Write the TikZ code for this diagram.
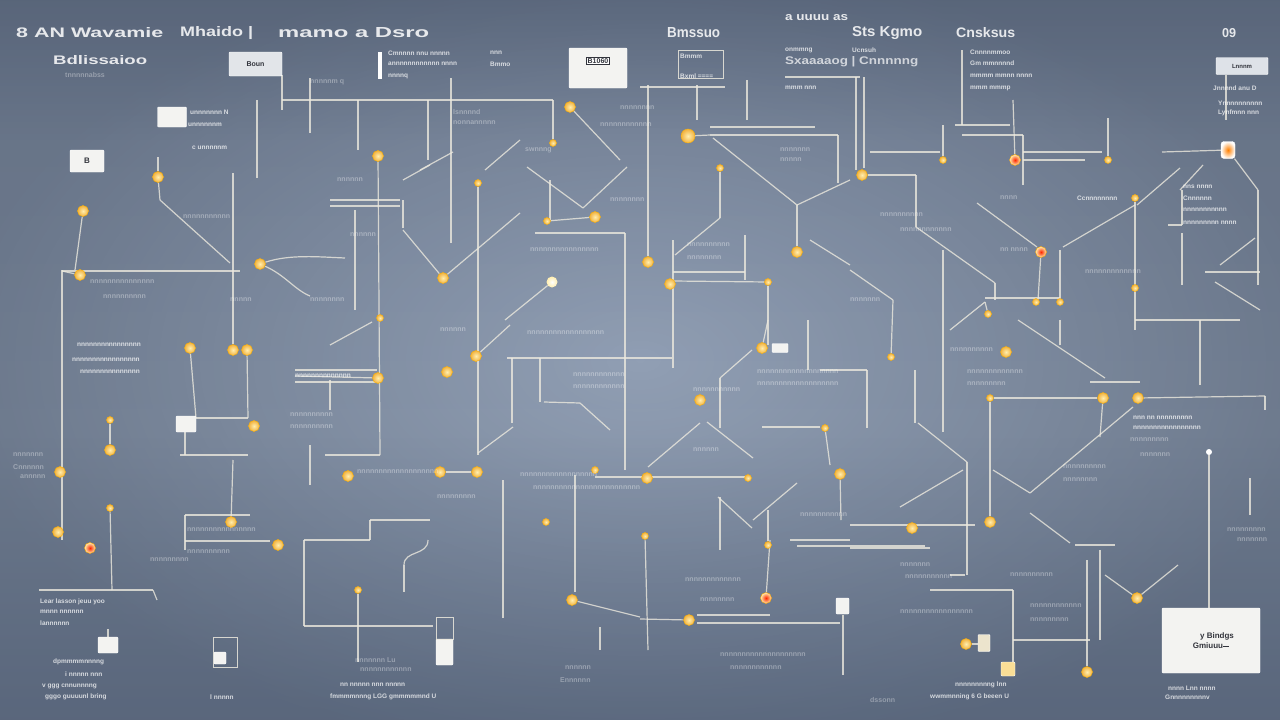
\documentclass[tikz,border=0pt]{standalone}
\usepackage{fontspec}
\setsansfont{Liberation Sans}
\usetikzlibrary{fadings}
\pgfdeclarelayer{back}
\pgfdeclarelayer{lines}
\pgfsetlayers{back,lines,main}
\definecolor{bgA}{RGB}{70,83,106}
\definecolor{bgB}{RGB}{110,125,150}
\definecolor{bgC}{RGB}{146,160,181}
\definecolor{bgD}{RGB}{140,154,176}
\definecolor{bgE}{RGB}{92,106,130}
\definecolor{bgF}{RGB}{48,58,78}
\definecolor{vigc}{RGB}{38,48,64}
\definecolor{lnc}{RGB}{236,233,222}
\definecolor{dotin}{RGB}{255,238,175}
\definecolor{dotout}{RGB}{242,178,62}
\definecolor{boxc}{RGB}{243,243,241}
\definecolor{darktx}{RGB}{50,52,60}
\pgfdeclareverticalshading{bgv}{100bp}{color(0bp)=(bgA); color(20bp)=(bgB); color(45bp)=(bgC); color(65bp)=(bgD); color(85bp)=(bgE); color(100bp)=(bgF)}
\tikzfading[name=vign, inner color=transparent!100, outer color=transparent!0]
\newcommand\fitt[3]{\resizebox{#1pt}{#2pt}{#3}}
\begin{document}
\begin{tikzpicture}[x=1pt,y=-1pt,
  ln/.style={draw=lnc, opacity=0.8, line width=1.2pt},
  dot/.style={circle, inner sep=0pt, minimum size=11pt, inner color=dotin, outer color=dotout, draw=orange!60!yellow, line width=0.4pt},
  bigdot/.style={dot, minimum size=14pt},
  sdot/.style={dot, minimum size=7pt},
  rdot/.style={circle, inner sep=0pt, minimum size=11pt, inner color=red!70!orange, outer color=dotin, draw=orange!70!yellow, line width=0.4pt},
  pdot/.style={circle, inner sep=0pt, minimum size=11pt, inner color=white, outer color=dotin},
  wdot/.style={rounded corners=3pt, inner sep=0pt, minimum width=14pt, minimum height=17pt, inner color=orange, outer color=white, draw=white},
  wbox/.style={fill=boxc, draw=white, inner sep=0pt, rounded corners=1pt},
  obox/.style={draw=lnc, opacity=0.85, line width=1pt, inner sep=0pt},
  hd/.style={text=white, opacity=0.85, font=\sffamily\bfseries, inner sep=0pt, anchor=west},
  tb/.style={text=white, opacity=0.75, font=\sffamily\bfseries\fontsize{6.5}{7}\selectfont, inner sep=0pt, anchor=west},
  tf/.style={text=white, opacity=0.35, font=\sffamily\bfseries\fontsize{7}{8}\selectfont, inner sep=0pt, anchor=west}]
\useasboundingbox (0,0) rectangle (1280,720);
\begin{pgfonlayer}{back}
\shade[shading=bgv] (-2,-2) rectangle (1282,722);
\fill[vigc, path fading=vign, opacity=0.35] (-40,-40) rectangle (1320,760);
\end{pgfonlayer}

% dots
\foreach \n/\x/\y in {d1/570/107, d3/378/156, d4/158/177, d5/83/211, d6/862/175, d11/260/264, d12/80/275, d13/443/278, d15/648/262, d16/670/284, d17/797/252, d18/595/217, d24/1006/352, d26/762/348, d27/190/348, d28/233/350, d29/247/350, d30/378/378, d31/476/356, d32/447/372, d33/700/400, d34/1103/398, d35/1138/398, d38/840/474, d39/254/426, d40/110/450, d41/60/472, d42/348/476, d43/440/472, d44/477/472, d46/647/478, d49/231/522, d50/278/545, d51/58/532, d56/912/528, d57/990/522, d58/1137/598, d59/572/600, d60/689/620, d62/966/644, d63/1087/672}
  \node[dot] (\n) at (\x,\y) {};
\node[bigdot] (d2) at (688,136) {};
\node[pdot] (d14) at (552,282) {};
\foreach \n/\x/\y in {d7/1015/160, d20/1041/252, d52/90/548, d61/766/598}
  \node[rdot] (\n) at (\x,\y) {};
\foreach \n/\x/\y in {d8/1108/160, d9/943/160, d19/547/221, d21/1060/302, d22/1036/302, d23/988/314, d25/891/357, d36/990/398, d37/825/428, d45/595/470, d47/748/478, d48/110/508, d53/546/522, d54/645/536, d55/768/545, d64/380/318, d66/1135/198, d67/1135/288, d68/720/168, d69/553/143, d70/358/590, d71/768/282, d72/110/420, d75/478/183}
  \node[sdot] (\n) at (\x,\y) {};
\node[wdot] (d10) at (1228,150) {};
\node[circle, fill=white, inner sep=0pt, minimum size=6pt] (d73) at (1209,452) {};

% boxes
\node[wbox, minimum width=29pt, minimum height=20pt] (b1) at (172,117) {};
\node[wbox, minimum width=34pt, minimum height=22pt, text=darktx, font=\sffamily\bfseries\fontsize{8}{8}\selectfont] (b2) at (87,161) {B};
\node[wbox, fill={rgb,255:red,226;green,229;blue,233}, minimum width=53pt, minimum height=24pt, text=darktx, font=\sffamily\bfseries\fontsize{7}{7}\selectfont, text depth=-6pt] (b3) at (255.5,64) {Boun};
\node[wbox, minimum width=58pt, minimum height=40pt] (b4) at (598,68) {};
\node[draw=darktx, fill=white, inner sep=1pt, text=darktx, font=\sffamily\bfseries\fontsize{7}{7}\selectfont] (b4l) at (598,61) {B1060};
\node[wbox, minimum width=98pt, minimum height=65pt, align=center, text=darktx, font=\sffamily\bfseries\fontsize{8}{10}\selectfont] (b5) at (1211,640.5) {\hspace*{12pt}y Bindgs\\Gmiuuu\rule[2pt]{6pt}{0.8pt}};
\node[wbox, fill={rgb,255:red,222;green,226;blue,232}, minimum width=52pt, minimum height=17pt, text=darktx, font=\sffamily\bfseries\fontsize{6}{6}\selectfont] (b6) at (1242,66) {Lnnnm};
\node[wbox, minimum width=13pt, minimum height=16pt] (b7) at (842.5,606) {};
\node[wbox, minimum width=20pt, minimum height=16pt] (b8) at (186,424) {};
\node[wbox, minimum width=17pt, minimum height=26pt] (b9) at (444.5,652) {};
\node[obox, minimum width=17pt, minimum height=22pt] (b9o) at (444.5,628) {};
\node[obox, minimum width=24pt, minimum height=30pt] (b10) at (225,652) {};
\node[wbox, minimum width=12pt, minimum height=12pt] (b10i) at (220,658) {};
\node[wbox, minimum width=20pt, minimum height=16pt] (b11) at (108,645) {};
\node[obox, minimum width=45pt, minimum height=28pt] (b12) at (700.5,64) {};
\node[wbox, fill={rgb,255:red,250;green,222;blue,150}, minimum width=14pt, minimum height=14pt] (b13) at (1008,669) {};
\node[wbox, fill={rgb,255:red,236;green,228;blue,205}, minimum width=12pt, minimum height=17pt] (b14) at (984,643) {};
\node[wbox, minimum width=16pt, minimum height=9pt] (b15) at (780,348) {};
\node[fill=white, inner sep=0pt, minimum width=4pt, minimum height=27pt] (bar1) at (380,65) {};

\begin{pgfonlayer}{lines}
\foreach \a/\b/\c/\d [count=\i] in {282/75/282/110, 282/100/553/100, 310/78/310/133, 358/100/358/150, 428/100/428/160, 451/78/451/243, 257/100/257/178, 640/87/725/87, 697/85/697/120, 747/80/747/120, 710/127/815/127, 710/135/838/135, 713/138/797/205, 797/205/850/180, 838/135/838/183, 785/77/860/77, 856/77/856/170, 864/77/864/168, 962/50/962/125, 1226/75/1226/120, 870/152/940/152, 955/125/1010/125, 962/135/1023/135, 1023/135/1023/185, 1023/152/1102/152, 1023/160/1085/160, 1258/190/1258/285, 1203/165/1180/190, 1182/190/1182/225, 1168/225/1182/225, 1182/233/1182/285, 1205/272/1260/272, 1255/238/1220/265, 1137/205/1180/168, 1063/247/1135/205, 1060/250/1060/305, 977/203/1037/247, 985/298/1060/298, 985/302/950/330, 1135/320/1240/320, 1215/282/1260/310, 916/175/916/227, 916/227/995/283, 995/283/995/300, 850/270/893/300, 943/250/943/432, 720/218/675/255, 673/240/673/368, 745/235/745/280, 673/272/745/272, 810/240/850/265, 160/200/230/263, 62/271/240/271, 62/270/62/540, 330/200/400/200, 330/206/400/206, 403/200/403/228, 403/180/430/165, 355/210/355/310, 420/170/453/152, 485/170/520/140, 527/167/583/208, 583/208/627/167, 550/180/550/220, 535/233/625/233, 625/233/625/470, 195/418/248/418, 185/430/185/455, 180/455/248/455, 295/370/377/370, 295/382/377/382, 380/455/325/455, 330/380/330/410, 372/322/330/345, 310/445/310/485, 185/515/185/550, 185/515/250/515, 185/541/270/541, 304/540/304/626, 304/540/370/540, 370/520/370/540, 370/520/430/520, 304/626/433/626, 404/565/404/592, 503/480/503/618, 575/475/575/592, 600/627/600/650, 39/590/153/590, 153/590/157/600, 507/358/672/358, 512/358/512/423, 540/358/540/402, 544/402/580/403, 580/403/610/430, 513/427/478/453, 720/378/720/428, 720/378/752/350, 808/320/808/370, 820/370/850/370, 762/427/820/427, 648/467/700/423, 707/422/753/458, 595/477/750/477, 718/497/752/528, 720/497/720/550, 753/520/797/483, 790/540/850/540, 697/615/770/615, 697/623/840/623, 797/546/925/546, 843/615/843/675, 850/370/867/370, 867/370/867/428, 915/370/915/423, 918/423/967/462, 967/462/967/575, 1018/320/1105/378, 1060/320/1060/345, 1265/396/1265/410, 1133/407/1030/493, 1200/320/1200/385, 1090/382/1140/382, 993/470/1030/493, 1030/513/1070/543, 963/470/900/507, 850/525/975/525, 850/548/930/548, 1250/478/1250/515, 950/575/965/575, 930/590/1013/590, 1013/590/1013/663, 1013/640/1090/640, 1100/550/1100/640, 1075/545/1115/545}
  {\coordinate (s\i) at (\a,\b); \coordinate (e\i) at (\c,\d); \draw[ln] (s\i) -- (e\i);}
\foreach \n/\x/\y [count=\i] in {d69/553/100, d1/620/160, d15/648/85, d17/797/205, d4/158/157, d4/160/200, d28/233/173, d5/75/270, d3/380/455, d13/403/230, d13/520/213, d14/505/320, d9/943/125, d7/1013/100, d8/1108/118, d10/1258/190, d10/1162/152, d66/1135/330, d20/1038/300, d6/916/175, d25/893/300, d68/720/218, d71/673/281, d71/768/345, d29/248/418, d49/233/460, d70/358/662, d59/640/617, d31/510/325, d26/768/320, d37/830/465, d54/648/650, d55/768/510, d61/770/540, d60/640/619, d34/1100/437, d35/1265/396, d58/1178/565, d58/1105/575, d63/1087/560, d73/1209/608, d48/112/590, d23/985/302, d38/841/520, d27/196/418, d75/478/455, d2/710/135, d30/295/376, d62/978/644, d12/62/271}
  {\coordinate (k\i) at (\x,\y); \draw[ln] (\n) -- (k\i);}
\draw[ln] (d18) -- (d19);
\draw[ln] (d72) -- (d40);
\draw[ln] (d43) -- (d44);
\draw[ln] (d36) -- (d34);
\draw[ln] (d36) -- (d57);
\coordinate (cv1) at (345,258);
\coordinate (cv2) at (310,296);
\coordinate (cv3) at (428,540);
\coordinate (cv4) at (404,565);
\coordinate (cv5) at (108,629);
\draw[ln] (d11) .. controls (290,254) and (320,257) .. (cv1);
\draw[ln] (d11) .. controls (285,275) and (295,290) .. (cv2);
\draw[ln] (cv3) .. controls (428,556) and (404,550) .. (cv4);
\draw[ln] (b11) -- (cv5);
\end{pgfonlayer}

% header texts
\node[hd] (h1) at (16,33) {\fitt{147}{10}{8 AN Wavamie}};
\node[hd] (h2) at (180,33) {\fitt{73}{10}{Mhaido |}};
\node[hd] (h3) at (278,33) {\fitt{151}{10}{mamo a Dsro}};
\node[hd] (h4) at (667,33) {\fitt{53}{10}{Bmssuo}};
\node[hd] (h5) at (852,33) {\fitt{70}{10}{Sts Kgmo}};
\node[hd] (h6) at (956,33) {\fitt{59}{10}{Cnsksus}};
\node[hd] (h7) at (1222,33) {\fitt{14}{9}{09}};
\node[hd] (h8) at (785,18) {\fitt{63}{6}{a uuuu as}};
\node[hd] (h9) at (53,60) {\fitt{94}{9}{Bdlissaioo}};
\node[hd, opacity=0.7] (h10) at (785,62) {\fitt{133}{8}{Sxaaaaog | Cnnnnng}};

% brighter small texts
\foreach \x/\y/\t [count=\i] in {388/53/Cmnnnn nnu nnnnn, 490/53/nnn, 388/64/annnnnnnnnnnn nnnn, 490/64/Bmmo, 388/76/nnnnq, 785/50/onmmng, 852/50/Ucnsuh, 970/52/Cnnnnmmoo, 970/63/Gm mmnnnnd, 970/76/mmmm mmnn nnnn, 970/88/mmm mmmp, 1213/88/Jnnnnd anu D, 1218/103/Ynnnnnnnnnn, 1218/113/Lynfmnn nnn, 680/56/Bmmm, 680/76/Bxml  ====, 785/88/mmm nnn, 190/112/unnnnnnn N, 188/125/unnnnnnm, 192/148/c unnnnnm, 40/602/Lear lasson jeuu yoo, 40/612/mnnn nnnnnn, 40/623/lannnnnn, 53/662/dpmmmmnnnng, 65/674/i nnnnn nnn, 42/686/v ggg cnnunnnng, 45/697/gggo guuuunl bring, 210/697/l nnnnn, 330/697/fmmmmnnng LGG gmmmmmnd U, 340/685/nn nnnnn   nnn nnnnn, 1168/688/nnnn Lnn nnnn, 1165/697/Gnnnnnnnnnv, 930/697/wwmmnning 6 G   beeen U, 955/685/nnnnnnnnng  lnn, 1183/187/nns nnnn, 1183/198/Cnnnnnn, 1183/210/nnnnnnnnnnn, 1183/223/nnnnnnnnn nnnn, 1077/198/Ccnnnnnnnn, 1133/418/nnn nn nnnnnnnnn, 1133/428/nnnnnnnnnnnnnnnnn, 295/376/nnnnnnnnnnnnnn, 77/345/nnnnnnnnnnnnnnnn, 72/360/nnnnnnnnnnnnnnnnn, 80/372/nnnnnnnnnnnnnnn}
  \node[tb] (tb\i) at (\x,\y) {\t};

% faint texts
\foreach \x/\y/\t [count=\i] in {65/75/tnnnnnabss, 310/82/nnnnnm q, 453/112/lsnnnnd, 453/123/nonnannnnn, 525/150/swnnng, 620/108/nnnnnnnn, 600/125/nnnnnnnnnnnn, 780/150/nnnnnnn, 780/160/nnnnn, 610/200/nnnnnnnn, 530/250/nnnnnnnnnnnnnnnn, 687/245/nnnnnnnnnn, 687/258/nnnnnnnn, 183/217/nnnnnnnnnnn, 90/282/nnnnnnnnnnnnnnn, 103/297/nnnnnnnnnn, 310/300/nnnnnnnn, 337/180/nnnnnn, 350/235/nnnnnn, 880/215/nnnnnnnnnn, 900/230/nnnnnnnnnnnn, 1000/250/nn nnnn, 1085/272/nnnnnnnnnnnnn, 950/350/nnnnnnnnnn, 967/372/nnnnnnnnnnnnn, 967/384/nnnnnnnnn, 1063/467/nnnnnnnnnn, 1063/480/nnnnnnnn, 1227/530/nnnnnnnnn, 1237/540/nnnnnnn, 527/333/nnnnnnnnnnnnnnnnnn, 573/375/nnnnnnnnnnnn, 573/387/nnnnnnnnnnnn, 693/390/nnnnnnnnnnn, 757/372/nnnnnnnnnnnnnnnnnnn, 757/384/nnnnnnnnnnnnnnnnnnn, 520/475/nnnnnnnnnnnnnnnnnn, 533/488/nnnnnnnnnnnnnnnnnnnnnnnnn, 437/497/nnnnnnnnn, 693/450/nnnnnn, 800/515/nnnnnnnnnnn, 13/455/nnnnnnn, 13/467/Cnnnnnn, 20/477/annnnn, 290/415/nnnnnnnnnn, 290/427/nnnnnnnnnn, 357/472/nnnnnnnnnnnnnnnnnnn, 187/530/nnnnnnnnnnnnnnnn, 187/552/nnnnnnnnnn, 355/660/nnnnnnn Lu, 360/670/nnnnnnnnnnnn, 565/668/nnnnnn, 560/680/Ennnnnn, 900/565/nnnnnnn, 905/577/nnnnnnnnnnn, 900/612/nnnnnnnnnnnnnnnnn, 1010/575/nnnnnnnnnn, 870/700/dssonn, 700/600/nnnnnnnn, 685/580/nnnnnnnnnnnnn, 720/655/nnnnnnnnnnnnnnnnnnnn, 730/668/nnnnnnnnnnnn, 1030/606/nnnnnnnnnnnn, 1030/620/nnnnnnnnn, 1130/440/nnnnnnnnn, 1140/455/nnnnnnn, 850/300/nnnnnnn, 1000/198/nnnn, 440/330/nnnnnn, 230/300/nnnnn, 150/560/nnnnnnnnn}
  \node[tf] (tf\i) at (\x,\y) {\t};
\end{tikzpicture}
\end{document}
